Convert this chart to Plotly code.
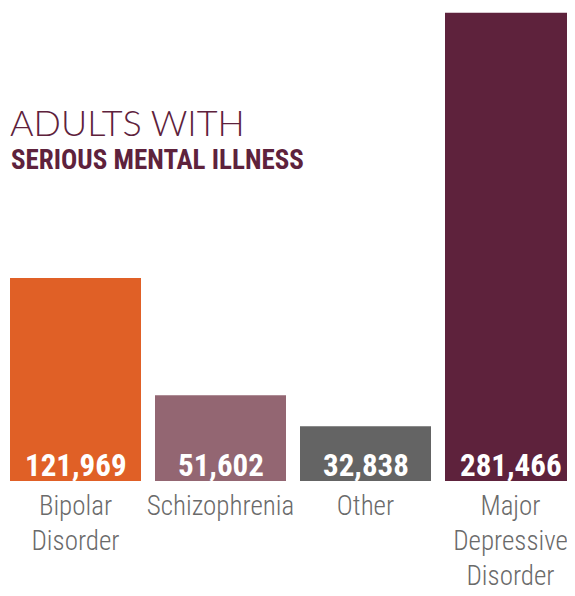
import plotly.graph_objects as go

categories = ["Bipolar<br>Disorder", "Schizophrenia", "Other", "Major<br>Depressive<br>Disorder"]
values = [121969, 51602, 32838, 281466]
colors = ["#E06026", "#936672", "#646464", "#5E223C"]
value_labels = [f"{v:,}" for v in values]
title_line1 = "ADULTS WITH"
title_line2 = "SERIOUS MENTAL ILLNESS"

positions = list(range(len(categories)))
cond = "Roboto Condensed, DejaVu Sans Condensed, sans-serif"

W, H = 567, 588          # page body has an 8px margin
PLOT_H = 473             # bar baseline at 473 px from figure top

fig = go.Figure(
    go.Bar(
        x=positions,
        y=values,
        width=131 / 145,
        marker=dict(color=colors, line=dict(width=0)),
        hoverinfo="skip",
    )
)

annotations = [
    dict(
        text=title_line1, x=0, y=(PLOT_H - 114) / PLOT_H,
        xref="paper", yref="paper", xanchor="left", yanchor="middle",
        showarrow=False,
        font=dict(family="Lato", size=36, color="#5E223C", weight=300),
    ),
    dict(
        text=title_line2, x=1 / W, y=(PLOT_H - 152) / PLOT_H,
        xref="paper", yref="paper", xanchor="left", yanchor="middle",
        showarrow=False,
        font=dict(family=cond, size=27, color="#5E223C", weight="bold"),
    ),
]
for p, lab in zip(positions, value_labels):
    annotations.append(dict(
        text=lab, x=p, y=0, xref="x", yref="y", xanchor="center", yanchor="bottom",
        yshift=-5, showarrow=False,
        font=dict(family=cond, size=31, color="white", weight="bold"),
    ))

fig.update_layout(
    width=W,
    height=H,
    margin=dict(l=0, r=0, t=0, b=H - PLOT_H),
    paper_bgcolor="white",
    plot_bgcolor="white",
    showlegend=False,
    xaxis=dict(
        range=[-67.5 / 145, (W - 67.5) / 145],
        tickvals=positions,
        ticktext=categories,
        showgrid=False,
        zeroline=False,
        showline=False,
        ticks="",
        ticklabelstandoff=6,
        ticklabeloverflow="allow",
        tickfont=dict(family=cond, size=27, color="#6a6a6a", weight=300),
        fixedrange=True,
    ),
    yaxis=dict(range=[0, PLOT_H * 601], visible=False, fixedrange=True),
    annotations=annotations,
)

fig.write_html("out.html")
